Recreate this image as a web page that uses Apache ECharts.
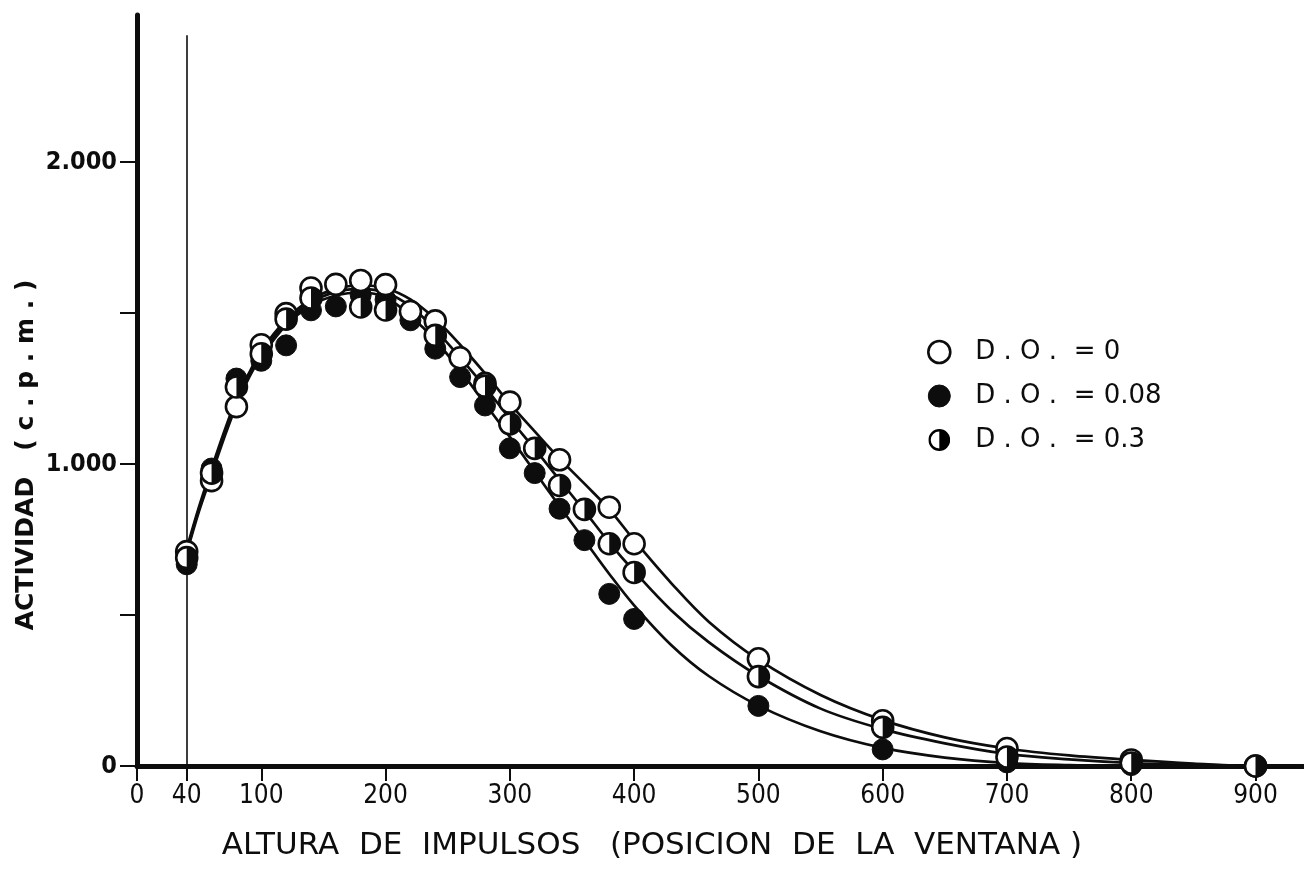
<!DOCTYPE html>
<html>
<head>
<meta charset="utf-8">
<script src="https://cdn.jsdelivr.net/npm/echarts@6/dist/echarts.min.js"></script>
<style>
html,body{margin:0;padding:0;background:#fff;}
#chart{width:1304px;height:883px;}
</style>
</head>
<body>
<div id="chart"></div>
<script>
// ---- tick labels ----
const xTickValues = [0, 40, 100, 200, 300, 400, 500, 600, 700, 800, 900];
const yTickValues = [0, 500, 1000, 1500, 2000];
const yLabelValues = [0, 1000, 2000];
const yLabelTexts = ['0', '1.000', '2.000'];

// ---- titles / legend ----
const xTitle = 'ALTURA  DE  IMPULSOS   (POSICION  DE  LA  VENTANA )';
const yTitle = 'ACTIVIDAD   ( c . p . m . )';
const seriesNames = ['D . O .  = 0', 'D . O .  = 0.08', 'D . O .  = 0.3'];

// ---- window start line ----
const windowX = 40;
const windowTop = 2420;

// ---- measured points ----
const whiteX = [40, 60, 80, 100, 120, 140, 160, 180, 200, 220, 240, 260, 280, 300, 340, 380, 400, 500, 600, 700, 800, 900];
const whiteY = [710, 945, 1190, 1395, 1498, 1583, 1595, 1608, 1594, 1505, 1474, 1352, 1267, 1205, 1014, 857, 736, 355, 150, 58, 20, 0];

const blackX = [40, 60, 80, 100, 120, 140, 160, 180, 200, 220, 240, 260, 280, 300, 320, 340, 360, 380, 400, 500, 600, 700, 800, 900];
const blackY = [668, 985, 1283, 1342, 1393, 1509, 1522, 1560, 1544, 1476, 1382, 1288, 1194, 1052, 970, 852, 748, 570, 487, 199, 55, 12, 3, 0];

const halfX = [40, 60, 80, 100, 120, 140, 180, 200, 240, 280, 300, 320, 340, 360, 380, 400, 500, 600, 700, 800, 900];
const halfY = [690, 970, 1255, 1365, 1480, 1550, 1520, 1510, 1426, 1258, 1133, 1052, 929, 850, 736, 641, 296, 128, 30, 10, 0];

// ---- fitted curves ----
const curveX = [40, 50, 60, 70, 80, 90, 100, 120, 140, 160, 180, 200, 220, 240, 260, 280, 300, 320, 340, 360, 380, 400, 430, 460, 500, 550, 600, 650, 700, 750, 800, 850, 900, 935];
const curveWhite = [720, 860, 985, 1105, 1215, 1300, 1375, 1478, 1545, 1580, 1592, 1582, 1545, 1480, 1395, 1300, 1200, 1108, 1018, 935, 850, 748, 605, 478, 352, 235, 152, 95, 58, 35, 20, 8, 0, 0];
const curveHalf = [712, 852, 975, 1095, 1205, 1292, 1365, 1470, 1535, 1570, 1580, 1568, 1522, 1445, 1352, 1255, 1150, 1050, 947, 845, 740, 645, 515, 410, 298, 190, 122, 75, 40, 22, 10, 4, 0, 0];
const curveBlack = [705, 845, 965, 1085, 1195, 1285, 1355, 1460, 1525, 1558, 1568, 1552, 1490, 1410, 1310, 1200, 1090, 975, 860, 748, 636, 532, 400, 298, 200, 115, 60, 28, 10, 3, 0, 0, 0, 0];

const zip = (xs, ys) => xs.map((x, i) => [x, ys[i]]);

const halfIconSvg = "<svg xmlns='http://www.w3.org/2000/svg' width='24' height='24' viewBox='0 0 24 24'><circle cx='12' cy='12' r='10.6' fill='white' stroke='black' stroke-width='2.6'/><path d='M12,1.4 A10.6,10.6 0 0,1 12,22.6 Z' fill='black'/></svg>";
const halfIcon = 'image://data:image/svg+xml;charset=utf-8,' + encodeURIComponent(halfIconSvg);

const INK = '#0d0d0d';
const MS = 21;
const COND = "'DejaVu Sans Condensed', 'DejaVu Sans', sans-serif";

const curveSeries = (ys, withMark) => {
  const s = {
    type: 'line', data: zip(curveX, ys), smooth: 0.35, showSymbol: false, symbol: 'none',
    lineStyle: { color: INK, width: 2.7 }, z: 2, silent: true, legendHoverLink: false
  };
  if (withMark) {
    s.markLine = {
      silent: true, symbol: 'none', label: { show: false },
      lineStyle: { color: INK, width: 1.6, type: 'solid' },
      data: [[{ coord: [windowX, 0] }, { coord: [windowX, windowTop] }]]
    };
  }
  return s;
};

const chart = echarts.init(document.getElementById('chart'));
chart.setOption({
  backgroundColor: '#fff',
  animation: false,
  grid: { left: 137, right: 0, top: 15, bottom: 117, containLabel: false },
  xAxis: {
    type: 'value', min: 0, max: 939,
    axisLine: { show: true, onZero: false, lineStyle: { color: INK, width: 5 } },
    axisTick: { show: true, length: 15, customValues: xTickValues, lineStyle: { color: INK, width: 2 } },
    axisLabel: { customValues: xTickValues, margin: 17, fontSize: 26, fontFamily: COND, color: INK },
    splitLine: { show: false }
  },
  yAxis: {
    type: 'value', min: 0, max: 2487,
    axisLine: { show: true, onZero: false, lineStyle: { color: INK, width: 5 } },
    axisTick: { show: true, length: 17, customValues: yTickValues, lineStyle: { color: INK, width: 2 } },
    axisLabel: {
      customValues: yLabelValues, margin: 20, fontSize: 25, fontFamily: COND, fontWeight: 'bold', color: INK,
      formatter: v => { const i = yLabelValues.indexOf(v); return i >= 0 ? yLabelTexts[i] : ''; }
    },
    splitLine: { show: false }
  },
  legend: {
    orient: 'vertical', left: 922, top: 334, itemWidth: 22, itemHeight: 22, itemGap: 18,
    textStyle: { fontSize: 26, fontFamily: 'DejaVu Sans', color: INK, padding: [0, 0, 0, 20] },
    selectedMode: false,
    data: [
      { name: seriesNames[0], icon: 'circle', itemStyle: { color: '#fff', borderColor: INK, borderWidth: 2.6 } },
      { name: seriesNames[1], icon: 'circle', itemStyle: { color: INK, borderColor: INK, borderWidth: 1 } },
      { name: seriesNames[2], icon: halfIcon }
    ]
  },
  graphic: [
    { type: 'text', x: 652, y: 846, style: { text: xTitle, fontSize: 31, fontFamily: 'DejaVu Sans', fill: INK, align: 'center', verticalAlign: 'middle' }, z: 10 },
    { type: 'text', x: 26, y: 455, rotation: Math.PI / 2, style: { text: yTitle, fontSize: 25, fontWeight: 'bold', fontFamily: 'DejaVu Sans', fill: INK, align: 'center', verticalAlign: 'middle' }, z: 10 }
  ],
  series: [
    curveSeries(curveWhite, true),
    curveSeries(curveHalf, false),
    curveSeries(curveBlack, false),
    {
      name: seriesNames[0], type: 'scatter', data: zip(whiteX, whiteY), symbol: 'circle', symbolSize: MS,
      itemStyle: { color: '#fff', borderColor: INK, borderWidth: 2.6, opacity: 1 }, z: 5
    },
    {
      name: seriesNames[1], type: 'scatter', data: zip(blackX, blackY), symbol: 'circle', symbolSize: MS,
      itemStyle: { color: INK, borderColor: INK, borderWidth: 1, opacity: 1 }, z: 4
    },
    {
      name: seriesNames[2], type: 'scatter', data: zip(halfX, halfY), symbol: 'circle', symbolSize: MS,
      itemStyle: { color: '#fff', borderColor: INK, borderWidth: 2.6, opacity: 1 }, z: 6
    },
    {
      name: seriesNames[2] + ' ', type: 'scatter', data: zip(halfX, halfY),
      symbol: 'path://M0,-10 A10,10 0 0,1 0,10 Z', symbolSize: [MS / 2, MS], symbolOffset: [MS / 4, 0],
      itemStyle: { color: INK, opacity: 1 }, z: 7
    }
  ]
});
</script>
</body>
</html>
